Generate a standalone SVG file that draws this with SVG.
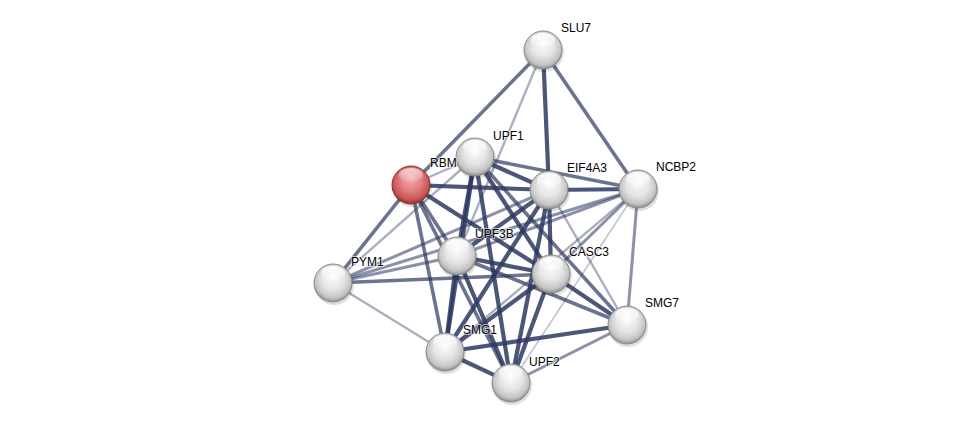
<svg xmlns="http://www.w3.org/2000/svg" width="975" height="429" viewBox="0 0 975 429">
<defs>
<radialGradient id="gBall" cx="50%" cy="45%" r="55%" fx="50%" fy="30%">
<stop offset="0" stop-color="#ffffff"/>
<stop offset="0.55" stop-color="#e4e4e4"/>
<stop offset="0.85" stop-color="#c4c4c4"/>
<stop offset="1" stop-color="#8c8c8c"/>
</radialGradient>
<radialGradient id="gRed" cx="50%" cy="45%" r="55%" fx="50%" fy="30%">
<stop offset="0" stop-color="#f6b0b0"/>
<stop offset="0.55" stop-color="#e07a7a"/>
<stop offset="0.85" stop-color="#c85454"/>
<stop offset="1" stop-color="#8e2e2e"/>
</radialGradient>
<linearGradient id="gHi" x1="0" y1="0" x2="0" y2="1">
<stop offset="0" stop-color="#ffffff" stop-opacity="0.95"/>
<stop offset="1" stop-color="#ffffff" stop-opacity="0.1"/>
</linearGradient>
</defs>
<style>
.e{stroke:#2c3860;fill:none;stroke-linecap:butt}
.e1{stroke-width:4.2;stroke-opacity:0.85}
.e2{stroke-width:3.6;stroke-opacity:0.7}
.e3{stroke-width:3;stroke-opacity:0.55}
.e4{stroke-width:2.4;stroke-opacity:0.4}
.e5{stroke-width:1.6;stroke-opacity:0.3}
.ball{fill:url(#gBall);stroke:#8a8a8a;stroke-width:1}
.red{fill:url(#gRed);stroke:#8a3030;stroke-width:1}
.hi{fill:url(#gHi)}
.sh{fill:#000;fill-opacity:0.12}
.lbl{font-family:"Liberation Sans",Arial,sans-serif;font-size:12px;fill:#000;stroke:#fff;stroke-width:2;stroke-opacity:0.6;paint-order:stroke}
</style>
<rect width="975" height="429" fill="#fff"/>
<g id="edges">
<line class="e e2" x1="543" y1="50" x2="411" y2="185"/>
<line class="e e4" x1="543" y1="50" x2="457" y2="256"/>
<line class="e e1" x1="543" y1="50" x2="549" y2="190"/>
<line class="e e2" x1="543" y1="50" x2="638" y2="189"/>
<line class="e e1" x1="638" y1="189" x2="549" y2="190"/>
<line class="e e2" x1="638" y1="189" x2="475" y2="157"/>
<line class="e e3" x1="638" y1="189" x2="627" y2="325"/>
<line class="e e5" x1="638" y1="189" x2="511" y2="383"/>
<line class="e e3" x1="638" y1="189" x2="333" y2="283"/>
<line class="e e3" x1="638" y1="189" x2="457" y2="256"/>
<line class="e e3" x1="638" y1="189" x2="551" y2="274"/>
<line class="e e4" x1="638" y1="189" x2="445" y2="352"/>
<line class="e e1" x1="549" y1="190" x2="475" y2="157"/>
<line class="e e1" x1="549" y1="190" x2="411" y2="185"/>
<line class="e e1" x1="549" y1="190" x2="457" y2="256"/>
<line class="e e1" x1="549" y1="190" x2="551" y2="274"/>
<line class="e e1" x1="549" y1="190" x2="445" y2="352"/>
<line class="e e1" x1="549" y1="190" x2="511" y2="383"/>
<line class="e e3" x1="549" y1="190" x2="333" y2="283"/>
<line class="e e4" x1="549" y1="190" x2="627" y2="325"/>
<line class="e e4" x1="475" y1="157" x2="411" y2="185"/>
<line class="e e1" x1="475" y1="157" x2="457" y2="256"/>
<line class="e e1" x1="475" y1="157" x2="551" y2="274"/>
<line class="e e1" x1="475" y1="157" x2="445" y2="352"/>
<line class="e e1" x1="475" y1="157" x2="511" y2="383"/>
<line class="e e2" x1="475" y1="157" x2="627" y2="325"/>
<line class="e e4" x1="475" y1="157" x2="333" y2="283"/>
<line class="e e2" x1="411" y1="185" x2="457" y2="256"/>
<line class="e e1" x1="411" y1="185" x2="551" y2="274"/>
<line class="e e2" x1="411" y1="185" x2="445" y2="352"/>
<line class="e e2" x1="411" y1="185" x2="511" y2="383"/>
<line class="e e2" x1="411" y1="185" x2="333" y2="283"/>
<line class="e e1" x1="457" y1="256" x2="551" y2="274"/>
<line class="e e1" x1="457" y1="256" x2="445" y2="352"/>
<line class="e e1" x1="457" y1="256" x2="511" y2="383"/>
<line class="e e2" x1="457" y1="256" x2="627" y2="325"/>
<line class="e e3" x1="457" y1="256" x2="333" y2="283"/>
<line class="e e1" x1="551" y1="274" x2="445" y2="352"/>
<line class="e e1" x1="551" y1="274" x2="511" y2="383"/>
<line class="e e1" x1="551" y1="274" x2="627" y2="325"/>
<line class="e e2" x1="551" y1="274" x2="333" y2="283"/>
<line class="e e1" x1="445" y1="352" x2="511" y2="383"/>
<line class="e e1" x1="445" y1="352" x2="627" y2="325"/>
<line class="e e4" x1="445" y1="352" x2="333" y2="283"/>
<line class="e e3" x1="511" y1="383" x2="627" y2="325"/>
</g>
<g id="SLU7"><circle class="sh" cx="544" cy="52" r="20"/><circle class="ball" cx="543" cy="50" r="19"/><ellipse class="hi" cx="543" cy="40" rx="12" ry="7"/><text class="lbl" x="561" y="32">SLU7</text></g>
<g id="UPF1"><circle class="sh" cx="476" cy="159" r="20"/><circle class="ball" cx="475" cy="157" r="19"/><ellipse class="hi" cx="475" cy="147" rx="12" ry="7"/><text class="lbl" x="493" y="140">UPF1</text></g>
<g id="RBM"><text class="lbl" x="430" y="167">RBM</text><circle class="sh" cx="412" cy="187" r="20"/><circle class="red" cx="411" cy="185" r="19"/><ellipse class="hi" cx="411" cy="175" rx="12" ry="7" opacity="0.7"/></g>
<g id="EIF4A3"><circle class="sh" cx="550" cy="192" r="20"/><circle class="ball" cx="549" cy="190" r="19"/><ellipse class="hi" cx="549" cy="180" rx="12" ry="7"/><text class="lbl" x="567" y="172">EIF4A3</text></g>
<g id="NCBP2"><circle class="sh" cx="639" cy="191" r="20"/><circle class="ball" cx="638" cy="189" r="19"/><ellipse class="hi" cx="638" cy="179" rx="12" ry="7"/><text class="lbl" x="656" y="171">NCBP2</text></g>
<g id="UPF3B"><circle class="sh" cx="458" cy="258" r="20"/><circle class="ball" cx="457" cy="256" r="19"/><ellipse class="hi" cx="457" cy="246" rx="12" ry="7"/><text class="lbl" x="475" y="238">UPF3B</text></g>
<g id="CASC3"><circle class="sh" cx="552" cy="276" r="20"/><circle class="ball" cx="551" cy="274" r="19"/><ellipse class="hi" cx="551" cy="264" rx="12" ry="7"/><text class="lbl" x="569" y="256">CASC3</text></g>
<g id="PYM1"><circle class="sh" cx="334" cy="285" r="20"/><circle class="ball" cx="333" cy="283" r="19"/><ellipse class="hi" cx="333" cy="273" rx="12" ry="7"/><text class="lbl" x="351" y="266">PYM1</text></g>
<g id="SMG7"><circle class="sh" cx="628" cy="327" r="20"/><circle class="ball" cx="627" cy="325" r="19"/><ellipse class="hi" cx="627" cy="315" rx="12" ry="7"/><text class="lbl" x="645" y="307">SMG7</text></g>
<g id="SMG1"><circle class="sh" cx="446" cy="354" r="20"/><circle class="ball" cx="445" cy="352" r="19"/><ellipse class="hi" cx="445" cy="342" rx="12" ry="7"/><text class="lbl" x="463" y="334">SMG1</text></g>
<g id="UPF2"><circle class="sh" cx="512" cy="385" r="20"/><circle class="ball" cx="511" cy="383" r="19"/><ellipse class="hi" cx="511" cy="373" rx="12" ry="7"/><text class="lbl" x="529" y="366">UPF2</text></g>
</svg>
